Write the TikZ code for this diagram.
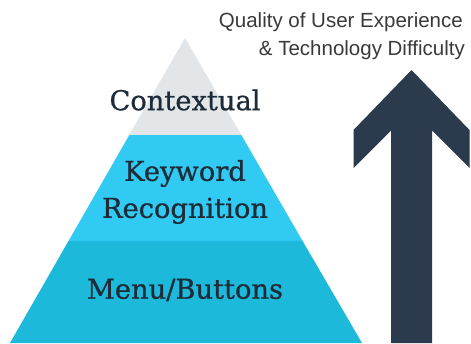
\documentclass[tikz,border=0pt]{standalone}
\usepackage{fontspec}
\setmainfont{DejaVu Serif}
\newfontfamily\tierfont[FakeBold=0.8]{DejaVu Serif}
\newfontfamily\labelsans{Liberation Sans}
\definecolor{topgray}{HTML}{E2E6E9}
\definecolor{midblue}{HTML}{30CAF3}
\definecolor{lowblue}{HTML}{1CB9DB}
\definecolor{navy}{HTML}{2B3A4C}
\definecolor{txtgray}{HTML}{3A3A3A}
\definecolor{txtnavy}{HTML}{1E2B38}
\tikzset{
  tier/.style={font=\tierfont\fontsize{27.3}{37}\selectfont, text=txtnavy, align=center, inner sep=0pt},
  toplabel/.style={font=\labelsans\fontsize{20.5}{28}\selectfont, text=txtgray, align=right, inner sep=0pt, anchor=east}
}
\begin{document}
\begin{tikzpicture}[x=1pt,y=-1pt]
\useasboundingbox (0,0) rectangle (471,343);
\fill[white] (0,0) rectangle (471,343);
% pyramid bands
\coordinate (apex) at (185,38);
\fill[topgray] (apex) -- (241.3,135) -- (129.3,135) -- cycle;
\fill[midblue] (129.3,135) -- (241.3,135) -- (302.6,241) -- (68.5,241) -- cycle;
\fill[lowblue] (68.5,241) -- (302.6,241) -- (362,343) -- (10,343) -- cycle;
% arrow
\fill[navy] (411.5,70) -- (469.5,130) -- (469.5,168) -- (432,130.5) -- (432,343)
  -- (391,343) -- (391,130.5) -- (353.5,168) -- (353.5,130) -- cycle;
% texts
\node[tier] (ctx) at (185,100) {Contextual};
\node[tier] (kw) at (185,192) {Keyword\\Recognition};
\node[tier] (menu) at (185,290) {Menu/Buttons};
\node[toplabel] (q1) at (463,22) {Quality of User Experience};
\node[toplabel] (q2) at (465,50) {\& Technology Difficulty};
\end{tikzpicture}
\end{document}
